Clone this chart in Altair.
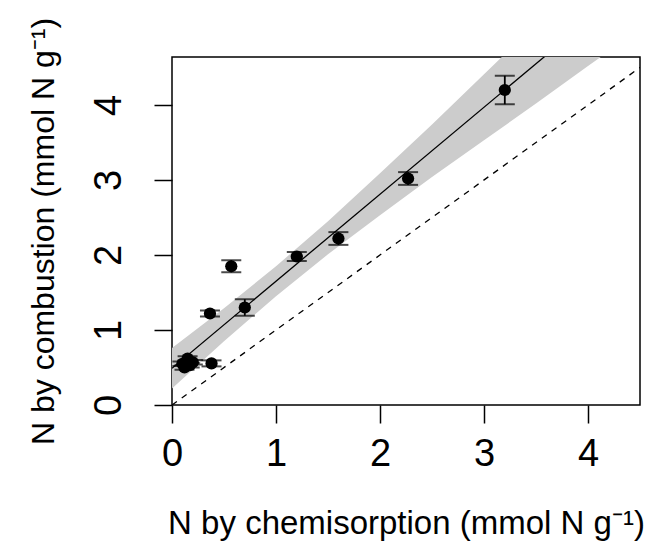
import altair as alt
import pandas as pd

chem = [0.10, 0.12, 0.15, 0.17, 0.20, 0.38, 0.365, 0.57, 0.70, 1.20, 1.60, 2.27, 3.20]
comb = [0.55, 0.50, 0.62, 0.53, 0.57, 0.555, 1.22, 1.85, 1.30, 1.98, 2.22, 3.02, 4.20]
err = [0.03, 0.03, 0.03, 0.03, 0.03, 0.04, 0.04, 0.08, 0.11, 0.06, 0.085, 0.085, 0.19]

# Confidence band of the regression
band_x = [0.0, 0.5, 1.0, 1.5, 2.0, 2.5, 3.0, 3.5, 4.0, 4.5]
band_lo = [0.22, 0.85, 1.45, 2.01, 2.53, 3.04, 3.53, 4.02, 4.52, 5.01]
band_hi = [0.76, 1.29, 1.85, 2.45, 3.09, 3.74, 4.41, 5.08, 5.74, 6.41]

# Fitted line end points and 1:1 line
fit_x = [0.0, 4.5]
fit_y = [0.49, 5.71]
one_x = [0.0, 4.5]
one_y = [0.0, 4.5]

x_ticks = [0, 1, 2, 3, 4]
y_ticks = [0, 1, 2, 3, 4]

pts = pd.DataFrame({"x": chem, "y": comb, "err": err})
pts["lo"] = pts["y"] - pts["err"]
pts["hi"] = pts["y"] + pts["err"]
band = pd.DataFrame({"x": band_x, "lo": band_lo, "hi": band_hi})
fit = pd.DataFrame({"x": fit_x, "y": fit_y})
one = pd.DataFrame({"x": one_x, "y": one_y})

FONT = "Liberation Sans"

xs = alt.Scale(domain=[0, 4.5], nice=False, zero=False)
ys = alt.Scale(domain=[0, 4.64], nice=False, zero=False)

xax = alt.Axis(values=x_ticks, format="d", title="N by chemisorption (mmol N g\u207b\u00b9)",
               labelFontSize=38, titleFontSize=33, labelPadding=12, titlePadding=34,
               labelBaseline="top",
               tickSize=18, tickWidth=1.5, tickColor="black", labelColor="black",
               titleColor="black", labelFont=FONT, titleFont=FONT, titleFontWeight="normal",
               domain=False, grid=False, labelFlush=False)
yax = alt.Axis(values=y_ticks, format="d", title="N by combustion (mmol N g\u207b\u00b9)",
               labelFontSize=38, titleFontSize=32, labelPadding=34, titlePadding=30,
               labelAngle=-90, labelAlign="center", labelBaseline="alphabetic",
               tickSize=18, tickWidth=1.5, tickColor="black", labelColor="black",
               titleColor="black", labelFont=FONT, titleFont=FONT, titleFontWeight="normal",
               domain=False, grid=False, labelFlush=False)

band_layer = alt.Chart(band).mark_area(color="#cccccc", clip=True).encode(
    x=alt.X("x:Q", scale=xs, axis=xax),
    y=alt.Y("lo:Q", scale=ys, axis=yax),
    y2="hi:Q",
)
fit_layer = alt.Chart(fit).mark_line(color="black", strokeWidth=1.3, clip=True).encode(
    x=alt.X("x:Q", scale=xs), y=alt.Y("y:Q", scale=ys)
)
one_layer = alt.Chart(one).mark_line(color="black", strokeWidth=1.3, strokeDash=[6, 6], clip=True).encode(
    x=alt.X("x:Q", scale=xs), y=alt.Y("y:Q", scale=ys)
)
err_layer = alt.Chart(pts).mark_rule(color="black", strokeWidth=1.8).encode(
    x=alt.X("x:Q", scale=xs), y=alt.Y("lo:Q", scale=ys), y2="hi:Q"
)
cap_lo = alt.Chart(pts).mark_tick(color="black", orient="horizontal", size=20, thickness=2).encode(
    x=alt.X("x:Q", scale=xs), y=alt.Y("lo:Q", scale=ys)
)
cap_hi = alt.Chart(pts).mark_tick(color="black", orient="horizontal", size=20, thickness=2).encode(
    x=alt.X("x:Q", scale=xs), y=alt.Y("hi:Q", scale=ys)
)
pt_layer = alt.Chart(pts).mark_circle(color="black", size=150, opacity=1).encode(
    x=alt.X("x:Q", scale=xs), y=alt.Y("y:Q", scale=ys)
)

chart = alt.layer(band_layer, fit_layer, one_layer, err_layer, cap_lo, cap_hi, pt_layer).properties(
    width=468, height=348,
    autosize=alt.AutoSizeParams(type="none"),
    padding={"left": 164, "top": 49, "right": 4, "bottom": 137},
    background="white",
).configure_view(stroke="black", strokeWidth=1.5)

chart.save("out.html", embed_options={"renderer": "svg", "actions": False})
